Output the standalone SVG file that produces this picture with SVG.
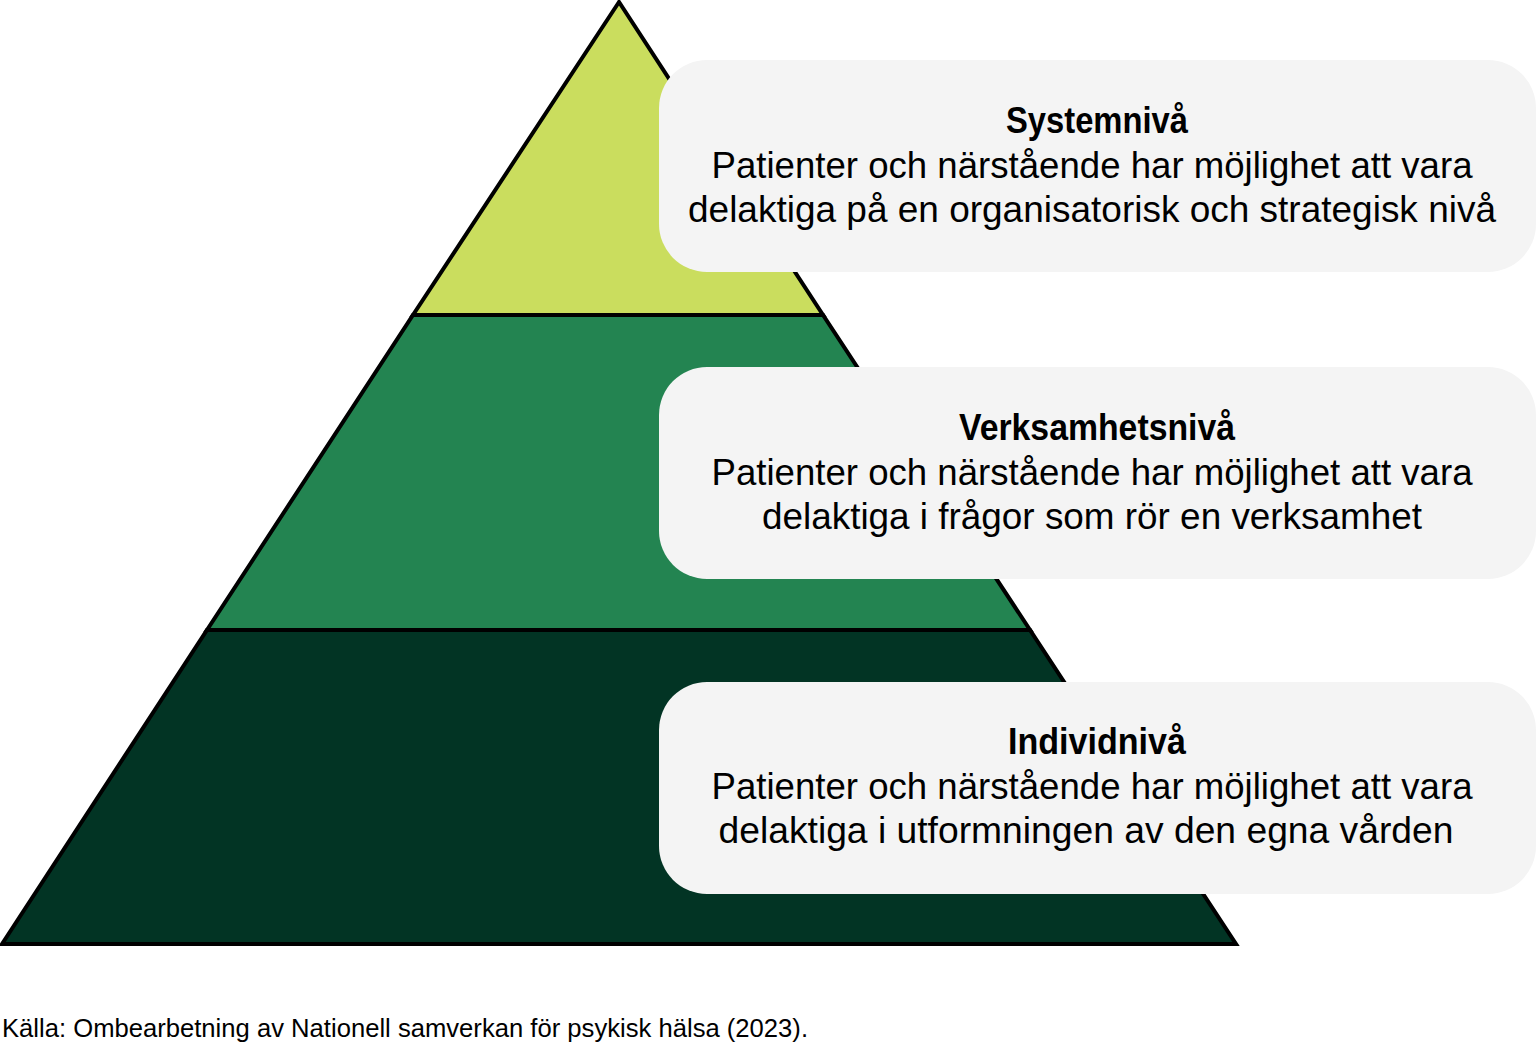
<svg xmlns="http://www.w3.org/2000/svg" width="1536" height="1045" viewBox="0 0 1536 1045">
<style>
.lvl{stroke:#000;stroke-width:4;stroke-linejoin:miter}
.box{fill:#f4f4f4}
.t{font-family:"Liberation Sans","DejaVu Sans",sans-serif;font-size:36px;fill:#000;text-anchor:middle}
.h{font-weight:bold}
.src{font-family:"Liberation Sans","DejaVu Sans",sans-serif;font-size:26px;fill:#000}
</style>
<rect width="1536" height="1045" fill="#fff"/>
<g id="pyramid">
<polygon id="level-system" class="lvl" fill="#cadd5e" points="619,2 413,315 823,315"/>
<polygon id="level-verksamhet" class="lvl" fill="#238451" points="413,315 823,315 1030,630 207,630"/>
<polygon id="level-individ" class="lvl" fill="#023424" points="207,630 1030,630 1236,944 2,944"/>
</g>
<g id="box-system">
<rect class="box" x="659" y="60" width="877" height="212" rx="48"/>
<text class="t h" x="1097" y="133" textLength="182" lengthAdjust="spacingAndGlyphs">Systemnivå</text>
<text class="t" x="1092" y="178" textLength="761" lengthAdjust="spacingAndGlyphs">Patienter och närstående har möjlighet att vara</text>
<text class="t" x="1092" y="222" textLength="808" lengthAdjust="spacingAndGlyphs">delaktiga på en organisatorisk och strategisk nivå</text>
</g>
<g id="box-verksamhet">
<rect class="box" x="659" y="367" width="877" height="212" rx="48"/>
<text class="t h" x="1097" y="440" textLength="276" lengthAdjust="spacingAndGlyphs">Verksamhetsnivå</text>
<text class="t" x="1092" y="485" textLength="761" lengthAdjust="spacingAndGlyphs">Patienter och närstående har möjlighet att vara</text>
<text class="t" x="1092" y="529" textLength="660" lengthAdjust="spacingAndGlyphs">delaktiga i frågor som rör en verksamhet</text>
</g>
<g id="box-individ">
<rect class="box" x="659" y="682" width="877" height="212" rx="48"/>
<text class="t h" x="1097" y="754" textLength="178" lengthAdjust="spacingAndGlyphs">Individnivå</text>
<text class="t" x="1092" y="799" textLength="761" lengthAdjust="spacingAndGlyphs">Patienter och närstående har möjlighet att vara</text>
<text class="t" x="1086" y="843" textLength="735" lengthAdjust="spacingAndGlyphs">delaktiga i utformningen av den egna vården</text>
</g>
<g id="connectors"/>
<text class="src" x="2" y="1037" textLength="806" lengthAdjust="spacingAndGlyphs">Källa: Ombearbetning av Nationell samverkan för psykisk hälsa (2023).</text>
</svg>
